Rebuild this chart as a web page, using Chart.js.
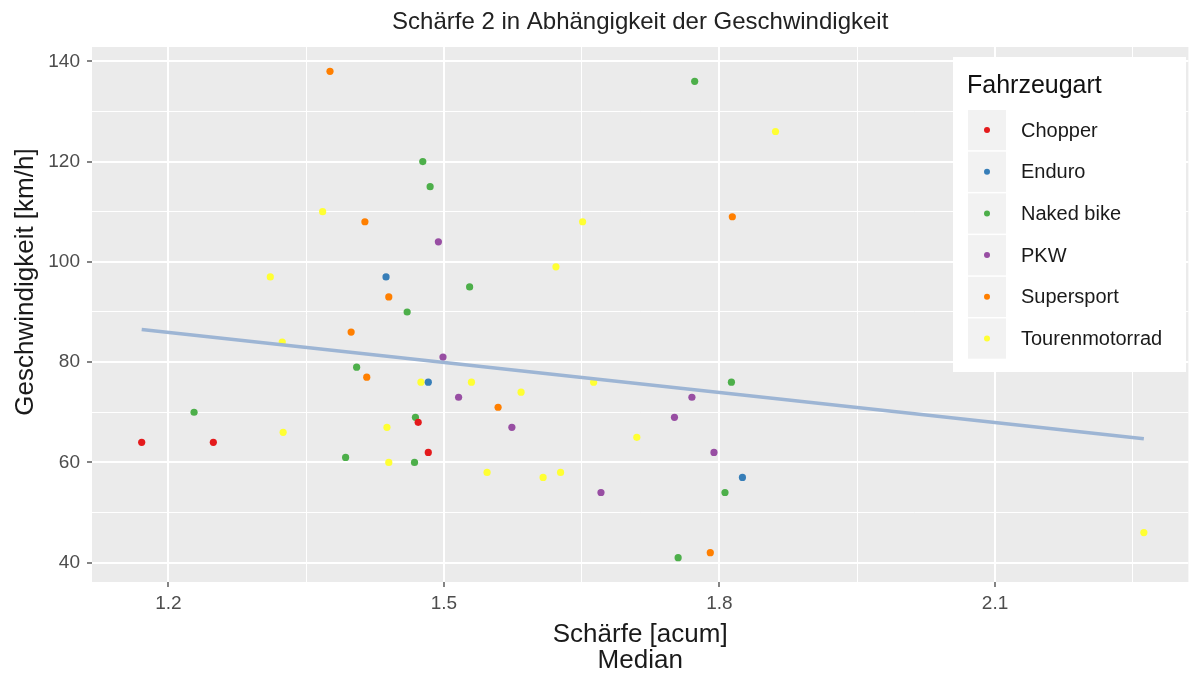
<!DOCTYPE html>
<html>
<head>
<meta charset="utf-8">
<script src="https://cdn.jsdelivr.net/npm/chart.js@4.4.1/dist/chart.umd.min.js"></script>
<style>
  html, body { margin: 0; padding: 0; background: #ffffff; }
  #wrap { width: 1192px; height: 675px; }
</style>
</head>
<body>
<div id="wrap"><canvas id="c" width="1192" height="675"></canvas></div>
<script>
// ---------- data ----------
const chartTitle = 'Schärfe 2 in Abhängigkeit der Geschwindigkeit';
const xAxisTitle = ['Schärfe [acum]', 'Median'];
const yAxisTitle = 'Geschwindigkeit [km/h]';
const legendTitle = 'Fahrzeugart';
const categories = ['Chopper', 'Enduro', 'Naked bike', 'PKW', 'Supersport', 'Tourenmotorrad'];

const chopperSharpness = [1.171, 1.249, 1.472, 1.483];
const chopperSpeed     = [64, 64, 68, 62];

const enduroSharpness = [1.437, 1.483, 1.825];
const enduroSpeed     = [97, 76, 57];

const nakedSharpness = [1.477, 1.485, 1.460, 1.528, 1.773, 1.405, 1.228, 1.469, 1.393, 1.468, 1.813, 1.806, 1.755];
const nakedSpeed     = [120, 115, 90, 95, 136, 79, 70, 69, 61, 60, 76, 54, 41];

const pkwSharpness = [1.494, 1.499, 1.516, 1.574, 1.671, 1.751, 1.770, 1.794];
const pkwSpeed     = [104, 81, 73, 67, 54, 69, 73, 62];

const supersportSharpness = [1.376, 1.414, 1.440, 1.399, 1.416, 1.814, 1.559, 1.790];
const supersportSpeed     = [138, 108, 93, 86, 77, 109, 71, 42];

const tourenSharpness = [1.368, 1.311, 1.861, 1.651, 1.622, 1.324, 1.475, 1.438, 1.325, 1.440, 1.530, 1.584, 1.663, 1.547, 1.608, 1.627, 1.710, 2.262];
const tourenSpeed     = [110, 97, 126, 108, 99, 84, 76, 67, 66, 60, 76, 74, 76, 58, 57, 58, 65, 46];

// fitted trend line end points
const trendSharpness = [1.171, 2.262];
const trendSpeed     = [86.5, 64.7];

// axis ticks
const xMajorTicks = [1.2, 1.5, 1.8, 2.1];
const xMinorTicks = [1.35, 1.65, 1.95, 2.25];
const xTickLabels = ['1.2', '1.5', '1.8', '2.1'];
const yMajorTicks = [40, 60, 80, 100, 120, 140];
const yMinorTicks = [50, 70, 90, 110, 130];
const yTickLabels = ['40', '60', '80', '100', '120', '140'];
const xLimits = [1.1169, 2.3105];
const yLimits = [36.15, 142.85];

// ---------- styles ----------
const seriesColors = ['#E41A1C', '#377EB8', '#4DAF4A', '#984EA3', '#FF7F00', '#FFFF33'];
const FONT = "'Liberation Sans', Arial, Helvetica, sans-serif";

const xs = [chopperSharpness, enduroSharpness, nakedSharpness, pkwSharpness, supersportSharpness, tourenSharpness];
const ys = [chopperSpeed, enduroSpeed, nakedSpeed, pkwSpeed, supersportSpeed, tourenSpeed];

const pointSets = categories.map((name, i) => ({
  label: name,
  data: xs[i].map((x, j) => ({ x: x, y: ys[i][j] })),
  backgroundColor: seriesColors[i],
  borderWidth: 0,
  pointRadius: 3.6,
  pointHoverRadius: 3.6,
  order: 1
}));

const trendSet = {
  label: 'trend',
  data: trendSharpness.map((x, j) => ({ x: x, y: trendSpeed[j] })),
  showLine: true,
  borderColor: '#9db5d4',
  borderWidth: 3.5,
  pointRadius: 0,
  order: 0
};

function isIn(arr, v) { return arr.some(a => Math.abs(a - v) < 1e-9); }

const panelBg = {
  id: 'panelBg',
  beforeDraw(chart) {
    const { ctx, chartArea: a } = chart;
    ctx.save();
    ctx.fillStyle = '#ebebeb';
    ctx.fillRect(a.left, a.top, a.right - a.left, a.bottom - a.top);
    ctx.restore();
  }
};

const extras = {
  id: 'extras',
  afterDraw(chart) {
    const ctx = chart.ctx;
    ctx.save();
    // y axis title
    ctx.translate(26, 282);
    ctx.rotate(-Math.PI / 2);
    ctx.font = '26px ' + FONT;
    ctx.fillStyle = '#1a1a1a';
    ctx.textAlign = 'center';
    ctx.textBaseline = 'middle';
    ctx.fillText(yAxisTitle, 0, 0);
    ctx.restore();

    // legend
    ctx.save();
    ctx.fillStyle = '#ffffff';
    ctx.fillRect(953, 57, 233, 315);
    ctx.font = '25px ' + FONT;
    ctx.fillStyle = '#111111';
    ctx.textAlign = 'left';
    ctx.textBaseline = 'middle';
    ctx.fillText(legendTitle, 967, 86);
    const step = 41.7;
    categories.forEach((name, i) => {
      const top = 110 + i * step;
      ctx.fillStyle = '#f2f2f2';
      ctx.fillRect(968, top, 38, step - 1.5);
      ctx.beginPath();
      ctx.fillStyle = seriesColors[i];
      ctx.arc(987, top + 20, 3, 0, Math.PI * 2);
      ctx.fill();
      ctx.font = '20px ' + FONT;
      ctx.fillStyle = '#1a1a1a';
      ctx.fillText(name, 1021, top + 21);
    });
    ctx.restore();
  }
};

function gridWidth(major, minor) {
  return (ctx) => {
    const v = ctx.tick ? ctx.tick.value : null;
    if (v === null) return 0;
    return isIn(major, v) ? 2 : 1;
  };
}
function tickCol(major) {
  return (ctx) => (ctx.tick && isIn(major, ctx.tick.value)) ? '#333333' : 'rgba(0,0,0,0)';
}

new Chart(document.getElementById('c'), {
  type: 'scatter',
  data: { datasets: [trendSet, ...pointSets] },
  plugins: [panelBg, extras],
  options: {
    responsive: false,
    animation: false,
    devicePixelRatio: 1,
    layout: { padding: { left: 0, right: 1, top: 0, bottom: 0 } },
    plugins: {
      legend: { display: false },
      tooltip: { enabled: false },
      title: {
        display: true,
        text: chartTitle,
        fullSize: false,
        color: '#222222',
        font: { family: FONT, size: 24, weight: 'normal', lineHeight: 1.2 },
        padding: { top: 8, bottom: 10.2 }
      }
    },
    scales: {
      x: {
        type: 'linear',
        min: xLimits[0],
        max: xLimits[1],
        afterBuildTicks: (s) => { s.ticks = [...xMajorTicks, ...xMinorTicks].sort((a, b) => a - b).map(v => ({ value: v })); },
        afterFit: (s) => { s.height = 93; },
        ticks: {
          autoSkip: false,
          maxRotation: 0,
          includeBounds: false,
          padding: 5,
          color: '#4d4d4d',
          font: { family: FONT, size: 19, lineHeight: 1.2 },
          callback: (v) => { const i = xMajorTicks.findIndex(a => Math.abs(a - v) < 1e-9); return i >= 0 ? xTickLabels[i] : ''; }
        },
        grid: { color: '#ffffff', lineWidth: gridWidth(xMajorTicks, xMinorTicks), tickLength: 5, tickColor: tickCol(xMajorTicks), tickWidth: 1.2 },
        border: { display: false },
        title: {
          display: true,
          text: xAxisTitle,
          color: '#1a1a1a',
          font: { family: FONT, size: 26, lineHeight: 1.0 },
          padding: { top: 0, bottom: 1 }
        }
      },
      y: {
        type: 'linear',
        min: yLimits[0],
        max: yLimits[1],
        afterBuildTicks: (s) => { s.ticks = [...yMajorTicks, ...yMinorTicks].sort((a, b) => a - b).map(v => ({ value: v })); },
        afterFit: (s) => { s.width = 92; },
        ticks: {
          autoSkip: false,
          includeBounds: false,
          padding: 7,
          color: '#4d4d4d',
          font: { family: FONT, size: 19, lineHeight: 1.2 },
          callback: (v) => { const i = yMajorTicks.findIndex(a => Math.abs(a - v) < 1e-9); return i >= 0 ? yTickLabels[i] : ''; }
        },
        grid: { color: '#ffffff', lineWidth: gridWidth(yMajorTicks, yMinorTicks), tickLength: 5, tickColor: tickCol(yMajorTicks), tickWidth: 1.2 },
        border: { display: false },
        title: { display: false }
      }
    }
  }
});
</script>
</body>
</html>
